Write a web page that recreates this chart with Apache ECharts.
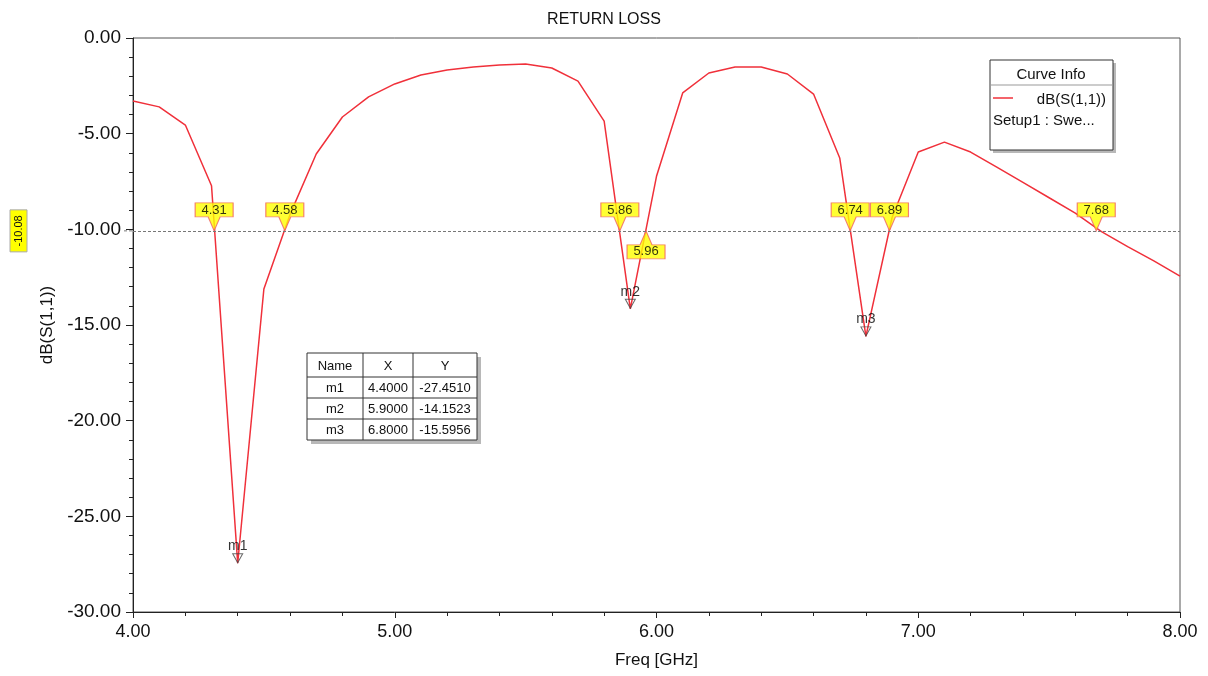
<!DOCTYPE html>
<html lang="en">
<head>
    <meta charset="UTF-8">
    <title>Return Loss</title>
    <style>
        html, body { margin: 0; padding: 0; background: #fff; }
        .main { width: 1208px; height: 676px; }
    </style>
</head>
<body>
<div class="main"></div>
<script src="https://cdn.jsdelivr.net/npm/echarts@6/dist/echarts.min.js"></script>
<script>
    // 频率点 (GHz)
    var freq = [4.0, 4.1, 4.2, 4.3, 4.4, 4.5, 4.6, 4.7, 4.8, 4.9,
                5.0, 5.1, 5.2, 5.3, 5.4, 5.5, 5.6, 5.7, 5.8, 5.9,
                6.0, 6.1, 6.2, 6.3, 6.4, 6.5, 6.6, 6.7, 6.8, 6.9,
                7.0, 7.1, 7.2, 7.3, 7.4, 7.5, 7.6, 7.7, 7.8, 7.9, 8.0];
    // dB(S(1,1))
    var s11 = [-3.29, -3.60, -4.55, -7.72, -27.451, -13.12, -9.22, -6.06, -4.13, -3.08,
               -2.40, -1.93, -1.67, -1.52, -1.41, -1.36, -1.57, -2.25, -4.34, -14.1523,
               -7.23, -2.87, -1.83, -1.52, -1.52, -1.88, -2.93, -6.27, -15.5956, -9.38,
               -5.96, -5.44, -5.96, -6.75, -7.55, -8.35, -9.15, -10.12, -10.90, -11.65, -12.45];

    // 参考线
    var refLevel = -10.08;
    var crossAbove = [4.31, 4.58, 5.86, 6.74, 6.89, 7.68];
    var crossBelow = [5.96];

    // 标记点
    var markerNames = ['m1', 'm2', 'm3'];
    var markerX = [4.4, 5.9, 6.8];
    var markerY = [-27.4510, -14.1523, -15.5956];

    var font = '"Liberation Sans", Arial, sans-serif';

    var main = document.getElementsByClassName('main')[0];
    var myChart = echarts.init(main);

    var lineData = freq.map(function (f, i) { return [f, s11[i]]; });

    var upData = crossAbove.map(function (x) { return { value: [x, refLevel], label: { formatter: x.toFixed(2) } }; });
    var downData = crossBelow.map(function (x) { return { value: [x, refLevel], label: { formatter: x.toFixed(2) } }; });
    var mData = markerNames.map(function (n, i) { return { name: n, value: [markerX[i], markerY[i]] }; });

    // 标签形状 (方框 + 三角)
    var calloutDown = 'path://M0 0 H38 V14 H25 L19 28 L13 14 H0 Z';
    var calloutUp = 'path://M19 0 L25 14 H38 V28 H0 V14 H13 Z';

    var tagLabel = {
        show: true,
        position: 'inside',
        color: '#000',
        fontSize: 13,
        fontFamily: font
    };

    // 标记表格
    var tbl = { x: 307, y: 353, cols: [56, 50, 64], headH: 24, rowH: 21 };
    var tblW = tbl.cols[0] + tbl.cols[1] + tbl.cols[2];
    var tblH = tbl.headH + tbl.rowH * markerNames.length;
    var tableEls = [
        { type: 'rect', shape: { x: tbl.x + 4, y: tbl.y + 4, width: tblW, height: tblH }, style: { fill: '#b8b8b8' } },
        { type: 'rect', shape: { x: tbl.x, y: tbl.y, width: tblW, height: tblH }, style: { fill: '#fff', stroke: '#333', lineWidth: 1 } }
    ];
    var heads = ['Name', 'X', 'Y'];
    var cx = tbl.x;
    tbl.cols.forEach(function (w, c) {
        if (c > 0) {
            tableEls.push({ type: 'line', shape: { x1: cx, y1: tbl.y, x2: cx, y2: tbl.y + tblH }, style: { stroke: '#333', lineWidth: 1 } });
        }
        tableEls.push({ type: 'text', x: cx + w / 2, y: tbl.y + tbl.headH / 2 + 1,
            style: { text: heads[c], fill: '#111', font: '13px ' + font, align: 'center', verticalAlign: 'middle' } });
        markerNames.forEach(function (n, r) {
            var t = c === 0 ? n : (c === 1 ? markerX[r].toFixed(4) : markerY[r].toFixed(4));
            tableEls.push({ type: 'text', x: cx + w / 2, y: tbl.y + tbl.headH + tbl.rowH * r + tbl.rowH / 2 + 1,
                style: { text: t, fill: '#111', font: '13px ' + font, align: 'center', verticalAlign: 'middle' } });
        });
        cx += w;
    });
    for (var r = 0; r < markerNames.length; r++) {
        var ly = tbl.y + tbl.headH + tbl.rowH * r;
        tableEls.push({ type: 'line', shape: { x1: tbl.x, y1: ly, x2: tbl.x + tblW, y2: ly }, style: { stroke: '#333', lineWidth: 1 } });
    }

    // Curve Info 图例框
    var legendEls = [
        { type: 'rect', shape: { x: 993, y: 63, width: 123, height: 90 }, style: { fill: '#b8b8b8' } },
        { type: 'rect', shape: { x: 990, y: 60, width: 123, height: 90 }, style: { fill: '#fff', stroke: '#333', lineWidth: 1 } },
        { type: 'text', x: 1051, y: 75, style: { text: 'Curve Info', fill: '#111', font: '15px ' + font, align: 'center', verticalAlign: 'middle' } },
        { type: 'line', shape: { x1: 990, y1: 85, x2: 1113, y2: 85 }, style: { stroke: '#999', lineWidth: 1 } },
        { type: 'line', shape: { x1: 993, y1: 98, x2: 1013, y2: 98 }, style: { stroke: '#f0303a', lineWidth: 1.5 } },
        { type: 'text', x: 1106, y: 100, style: { text: 'dB(S(1,1))', fill: '#111', font: '15px ' + font, align: 'right', verticalAlign: 'middle' } },
        { type: 'text', x: 993, y: 121, style: { text: 'Setup1 : Swe...', fill: '#111', font: '15px ' + font, align: 'left', verticalAlign: 'middle' } }
    ];

    var option = {
        backgroundColor: '#fff',
        animation: false,
        title: {
            text: 'RETURN LOSS',
            left: 'center',
            top: 7,
            textStyle: { fontFamily: font, fontSize: 16, fontWeight: 'normal', color: '#111' }
        },
        grid: {
            left: 133, right: 28, top: 38, bottom: 64,
            show: true, borderColor: '#555', borderWidth: 1
        },
        xAxis: {
            type: 'value',
            min: 4, max: 8, interval: 1,
            name: 'Freq [GHz]',
            nameLocation: 'middle',
            nameGap: 40,
            nameTextStyle: { fontFamily: font, fontSize: 17, color: '#111' },
            axisLine: { onZero: false, lineStyle: { color: '#222', width: 1 } },
            axisTick: { show: true, length: 6, lineStyle: { color: '#222' } },
            minorTick: { show: true, splitNumber: 5, length: 4, lineStyle: { color: '#222' } },
            splitLine: { show: false },
            axisLabel: {
                fontFamily: font, fontSize: 18, color: '#111', margin: 11,
                formatter: function (v) { return v.toFixed(2); }
            }
        },
        yAxis: {
            type: 'value',
            min: -30, max: 0, interval: 5,
            name: 'dB(S(1,1))',
            nameLocation: 'middle',
            nameGap: 70,
            nameTextStyle: { fontFamily: font, fontSize: 17, color: '#111' },
            axisLine: { show: true, onZero: false, lineStyle: { color: '#222', width: 1 } },
            axisTick: { show: true, length: 7, lineStyle: { color: '#222' } },
            minorTick: { show: true, splitNumber: 5, length: 4, lineStyle: { color: '#222' } },
            splitLine: { show: false },
            axisLabel: {
                fontFamily: font, fontSize: 19, color: '#111', margin: 12,
                formatter: function (v) { return v.toFixed(2); }
            }
        },
        series: [
            {
                name: 'dB(S(1,1))',
                type: 'line',
                data: lineData,
                symbol: 'none',
                lineStyle: { color: '#f0303a', width: 1.5 },
                markLine: {
                    silent: true,
                    symbol: 'none',
                    label: { show: false },
                    lineStyle: { color: '#777', type: [3, 2], width: 1 },
                    data: [{ yAxis: refLevel }]
                },
                z: 2
            },
            {
                type: 'scatter',
                data: upData,
                symbol: calloutDown,
                symbolSize: [38, 28],
                symbolOffset: [0, -14],
                itemStyle: { color: '#ffff00', borderColor: '#f06060', borderWidth: 1 },
                label: Object.assign({}, tagLabel, { offset: [0, -6] }),
                z: 4
            },
            {
                type: 'scatter',
                data: downData,
                symbol: calloutUp,
                symbolSize: [38, 28],
                symbolOffset: [0, 14],
                itemStyle: { color: '#ffff00', borderColor: '#f06060', borderWidth: 1 },
                label: Object.assign({}, tagLabel, { offset: [0, 7] }),
                z: 4
            },
            {
                type: 'scatter',
                data: mData,
                symbol: 'triangle',
                symbolRotate: 180,
                symbolSize: [10, 9],
                symbolOffset: [0, -5],
                itemStyle: { color: 'rgba(255,255,255,0)', borderColor: '#444', borderWidth: 1 },
                label: {
                    show: true,
                    position: 'top',
                    distance: 0,
                    formatter: '{b}',
                    color: '#000',
                    fontSize: 14,
                    fontFamily: font
                },
                z: 5
            }
        ],
        graphic: [
            { type: 'group', id: 'markerTable', children: tableEls },
            { type: 'group', id: 'curveInfo', children: legendEls }
        ]
    };

    myChart.setOption(option);

    // 左侧 -10.08 标签
    var py = myChart.convertToPixel({ yAxisIndex: 0 }, refLevel);
    myChart.setOption({
        graphic: [
            { type: 'group', id: 'markerTable', children: tableEls },
            { type: 'group', id: 'curveInfo', children: legendEls },
            {
                type: 'group', id: 'refTag',
                children: [
                    { type: 'rect', shape: { x: 10, y: py - 21, width: 17, height: 42 }, style: { fill: '#ffff00', stroke: '#aaa', lineWidth: 1 } },
                    { type: 'text', x: 18.5, y: py, rotation: Math.PI / 2,
                      style: { text: refLevel.toFixed(2), fill: '#111', font: '11px ' + font, align: 'center', verticalAlign: 'middle' } }
                ]
            },
            { type: 'line', id: 'refExt', shape: { x1: 124, y1: py, x2: 133, y2: py }, style: { stroke: '#777', lineDash: [3, 2], lineWidth: 1 } }
        ]
    });
</script>
</body>
</html>
